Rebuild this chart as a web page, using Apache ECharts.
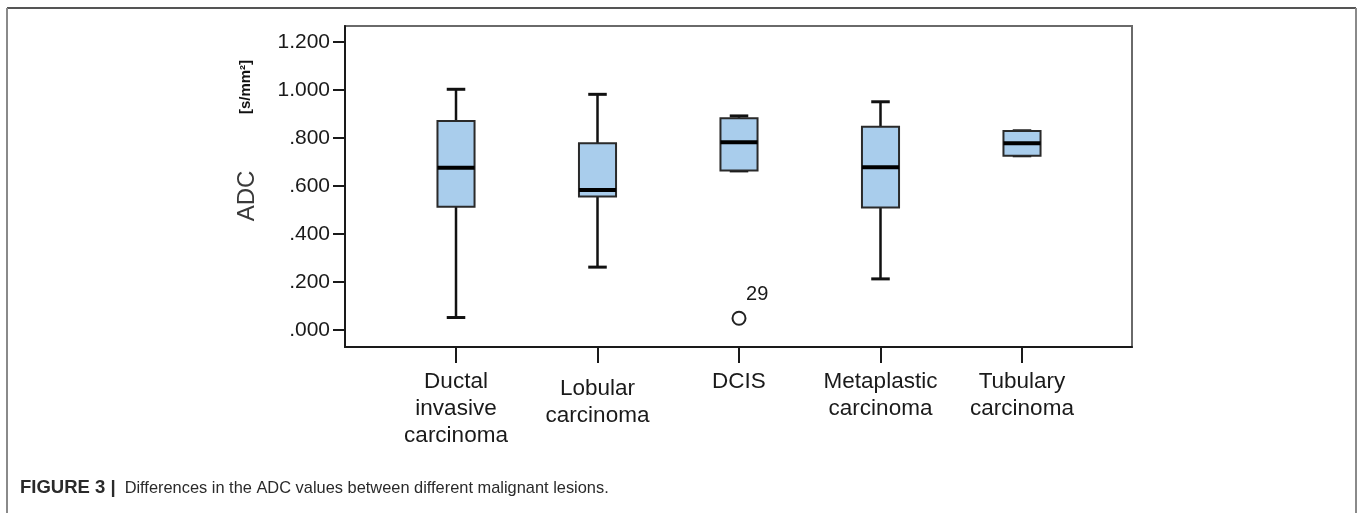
<!DOCTYPE html>
<html>
<head>
<meta charset="utf-8">
<script src="https://cdn.jsdelivr.net/npm/echarts@6/dist/echarts.min.js"></script>
<style>
html,body{margin:0;padding:0;background:#fff;}
#chart{width:1363px;height:513px;}
</style>
</head>
<body>
<div id="chart"></div>
<script>
// ---- data ----
const categories = ['Ductal\ninvasive\ncarcinoma', 'Lobular\ncarcinoma', 'DCIS', 'Metaplastic\ncarcinoma', 'Tubulary\ncarcinoma'];
const mins    = [0.052, 0.262, 0.663, 0.213, 0.726];
const q1s     = [0.514, 0.556, 0.665, 0.510, 0.726];
const medians = [0.676, 0.583, 0.782, 0.678, 0.778];
const q3s     = [0.871, 0.778, 0.882, 0.847, 0.829];
const maxs    = [1.003, 0.982, 0.892, 0.951, 0.830];
const outlierCats   = [2];
const outlierValues = [0.049];
const outlierLabels = ['29'];
const yTickValues = [0, 0.2, 0.4, 0.6, 0.8, 1.0, 1.2];
const yTickLabels = ['.000', '.200', '.400', '.600', '.800', '1.000', '1.200'];
const yAxisTitle = 'ADC';
const yAxisUnit = '[s/mm²]';
const captionBold = 'FIGURE 3 |';
const captionText = 'Differences in the ADC values between different malignant lesions.';

// ---- build ----
const boxData = categories.map((c, i) => [i, mins[i], q1s[i], medians[i], q3s[i], maxs[i]]);
const outlierData = outlierCats.map((c, i) => ({ value: [c, outlierValues[i]], name: outlierLabels[i] }));
const catIdx = categories.map((c, i) => i);

const BOX_W = 0.262; // in category units

function renderBox(params, api) {
  const x = api.value(0);
  const pMin = api.coord([x, api.value(1)]);
  const pQ1 = api.coord([x, api.value(2)]);
  const pMed = api.coord([x, api.value(3)]);
  const pQ3 = api.coord([x, api.value(4)]);
  const pMax = api.coord([x, api.value(5)]);
  const unit = api.size([1, 0])[0];
  const bw = unit * BOX_W;
  const cw = bw / 2;
  const cx = pMed[0];
  const lineStyle = { stroke: '#111', lineWidth: 2.5 };
  const capStyle = { stroke: '#111', lineWidth: 3 };
  return {
    type: 'group',
    children: [
      { type: 'line', shape: { x1: cx, y1: pMax[1], x2: cx, y2: pQ3[1] }, style: lineStyle },
      { type: 'line', shape: { x1: cx, y1: pQ1[1], x2: cx, y2: pMin[1] }, style: lineStyle },
      { type: 'line', shape: { x1: cx - cw / 2, y1: pMax[1], x2: cx + cw / 2, y2: pMax[1] }, style: capStyle },
      { type: 'line', shape: { x1: cx - cw / 2, y1: pMin[1], x2: cx + cw / 2, y2: pMin[1] }, style: capStyle },
      { type: 'rect', shape: { x: cx - bw / 2, y: pQ3[1], width: bw, height: pQ1[1] - pQ3[1] },
        style: { fill: '#a9cdec', stroke: '#2a2a2a', lineWidth: 2 } },
      { type: 'line', shape: { x1: cx - bw / 2, y1: pMed[1], x2: cx + bw / 2, y2: pMed[1] },
        style: { stroke: '#000', lineWidth: 4 } }
    ]
  };
}

const chart = echarts.init(document.getElementById('chart'), null, { renderer: 'canvas' });
const option = {
  backgroundColor: '#fff',
  animation: false,
  grid: {
    left: 345, top: 26, right: 231, bottom: 166,
    show: true, borderColor: '#6a6a6a', borderWidth: 2, backgroundColor: '#fff'
  },
  xAxis: {
    type: 'value',
    min: -0.7845, max: 4.7774,
    splitLine: { show: false },
    axisLine: { show: true, onZero: false, lineStyle: { color: '#1a1a1a', width: 2 } },
    axisTick: { show: true, customValues: catIdx, length: 16, lineStyle: { color: '#1a1a1a', width: 2 } },
    axisLabel: {
      show: true, customValues: catIdx, margin: 21,
      fontFamily: 'Liberation Sans, Arial, sans-serif', fontSize: 22.5, lineHeight: 27, color: '#1a1a1a',
      verticalAlign: 'top',
      formatter: function (v) {
        const i = Math.round(v);
        const t = categories[i];
        if (i === 1) return '{sp| }\n' + t;
        return t;
      },
      rich: { sp: { fontSize: 2, lineHeight: 7 } }
    }
  },
  yAxis: {
    type: 'value',
    min: -0.0708, max: 1.2667,
    splitLine: { show: false },
    axisLine: { show: true, onZero: false, lineStyle: { color: '#1a1a1a', width: 2 } },
    axisTick: { show: true, customValues: yTickValues, length: 12, lineStyle: { color: '#1a1a1a', width: 2 } },
    axisLabel: {
      show: true, customValues: yTickValues, margin: 15,
      fontFamily: 'Liberation Sans, Arial, sans-serif', fontSize: 21, color: '#1a1a1a',
      formatter: function (v) {
        const k = yTickValues.findIndex(t => Math.abs(t - v) < 1e-6);
        return k >= 0 ? yTickLabels[k] : '';
      }
    }
  },
  series: [
    {
      type: 'custom',
      renderItem: renderBox,
      encode: { x: 0, y: [1, 2, 3, 4, 5] },
      data: boxData,
      z: 3
    },
    {
      type: 'scatter',
      data: outlierData,
      symbol: 'circle',
      symbolSize: 13,
      itemStyle: { color: '#fff', borderColor: '#222', borderWidth: 2, opacity: 1 },
      label: {
        show: true, formatter: '{b}', position: [14.5, -26.5],
        fontFamily: 'Liberation Sans, Arial, sans-serif', fontSize: 20, color: '#1a1a1a'
      },
      z: 4
    }
  ],
  graphic: [
    { type: 'line', shape: { x1: 7, y1: 8, x2: 1356, y2: 8 }, style: { stroke: '#555', lineWidth: 2 } },
    { type: 'line', shape: { x1: 7, y1: 8, x2: 7, y2: 520 }, style: { stroke: '#8a8a8a', lineWidth: 2 } },
    { type: 'line', shape: { x1: 1356, y1: 8, x2: 1356, y2: 520 }, style: { stroke: '#8a8a8a', lineWidth: 2 } },
    { type: 'text', x: 247, y: 196, rotation: Math.PI / 2,
      style: { text: yAxisTitle, fontFamily: 'Liberation Sans, Arial, sans-serif', fontSize: 24,
               fill: '#3a3a3a', align: 'center', verticalAlign: 'middle' } },
    { type: 'text', x: 246, y: 87, rotation: Math.PI / 2,
      style: { text: yAxisUnit, fontFamily: 'Liberation Sans, Arial, sans-serif', fontSize: 15, fontWeight: 'bold',
               fill: '#111', align: 'center', verticalAlign: 'middle' } },
    { type: 'text', x: 20, y: 488,
      style: {
        text: '{b|' + captionBold + '}{sp| }' + captionText,
        fontFamily: 'Liberation Sans, Arial, sans-serif', fontSize: 16.4, fill: '#2a2a2a',
        verticalAlign: 'middle',
        rich: { b: { fontWeight: 'bold', fontSize: 18.5, fill: '#2a2a2a' }, sp: { width: 9 } }
      } }
  ]
};
chart.setOption(option);
</script>
</body>
</html>
